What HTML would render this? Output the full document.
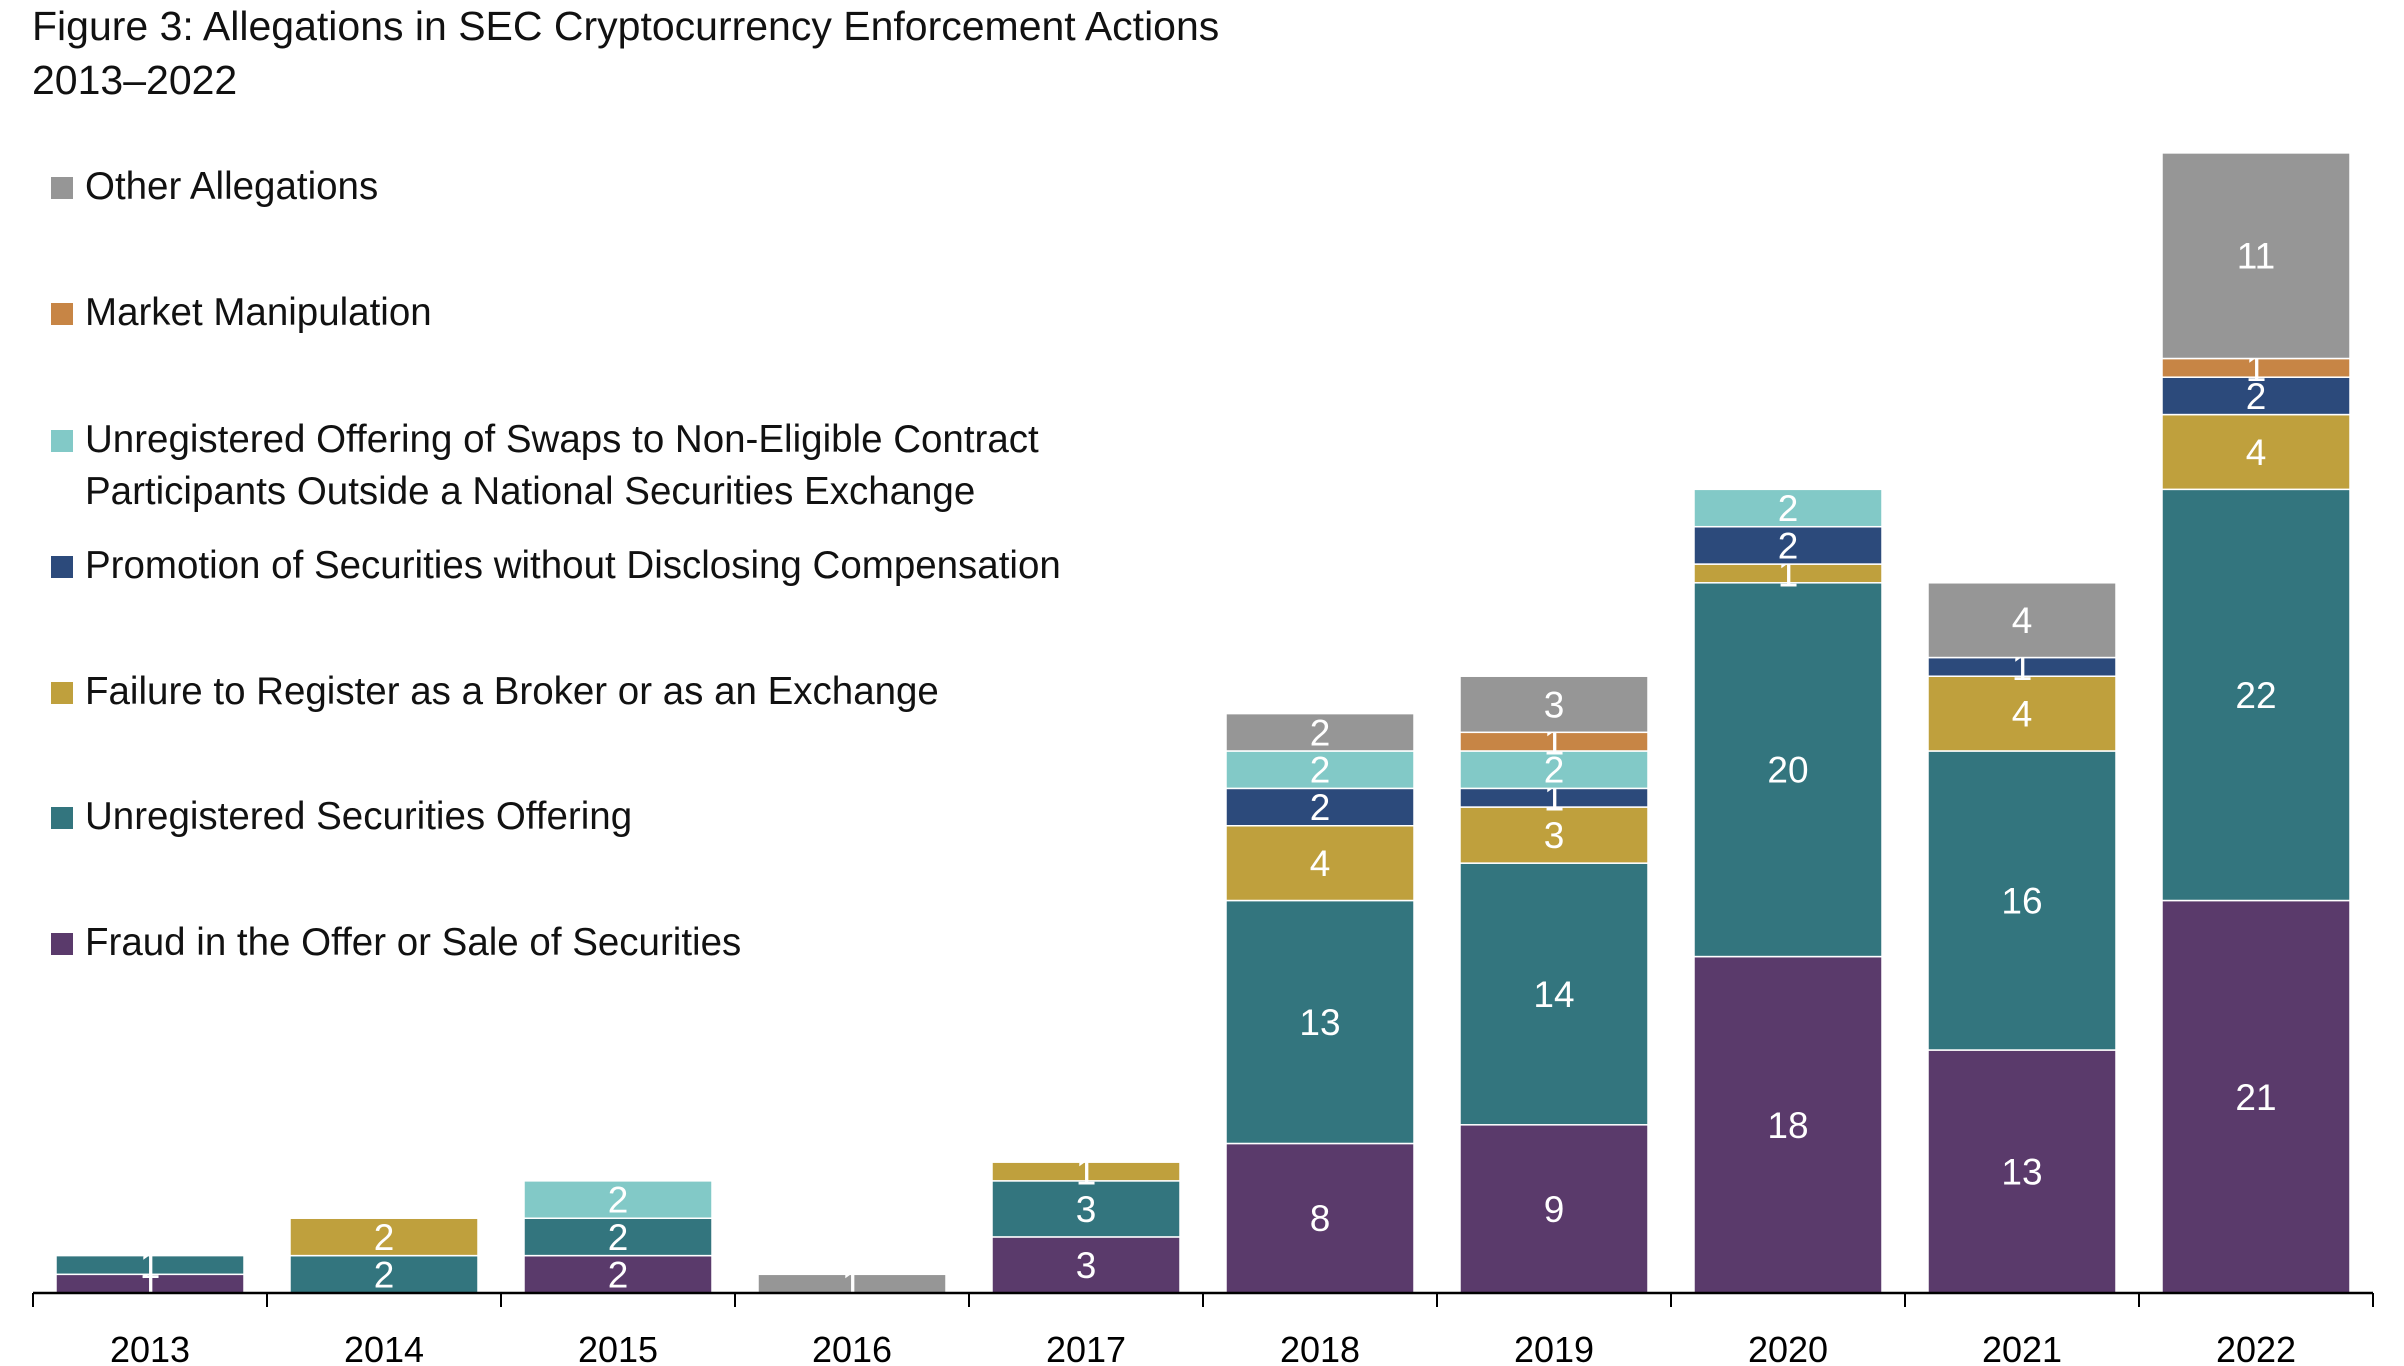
<!DOCTYPE html>
<html><head><meta charset="utf-8"><style>
html,body{margin:0;padding:0;background:#fff;}
svg{display:block;font-family:"Liberation Sans",sans-serif;}
</style></head><body>
<svg id="chart" width="2404" height="1366" viewBox="0 0 2404 1366" xmlns="http://www.w3.org/2000/svg">
<text x="32" y="40" font-size="41" fill="#111">Figure 3: Allegations in SEC Cryptocurrency Enforcement Actions</text>
<text x="32" y="94" font-size="41" fill="#111">2013–2022</text>
<g id="legend"></g>
<g id="bars"></g>
<g id="axis"></g>
</svg>
<script>
const years = ["2013","2014","2015","2016","2017","2018","2019","2020","2021","2022"];
const fraud = [1,0,2,0,3,8,9,18,13,21];
const unregistered = [1,2,2,0,3,13,14,20,16,22];
const failureRegister = [0,2,0,0,1,4,3,1,4,4];
const promotion = [0,0,0,0,0,2,1,2,1,2];
const swaps = [0,0,2,0,0,2,2,2,0,0];
const marketManip = [0,0,0,0,0,0,1,0,0,1];
const other = [0,0,0,1,0,2,3,0,4,11];
const seriesNames = ["Fraud in the Offer or Sale of Securities","Unregistered Securities Offering","Failure to Register as a Broker or as an Exchange","Promotion of Securities without Disclosing Compensation","Unregistered Offering of Swaps to Non-Eligible Contract|Participants Outside a National Securities Exchange","Market Manipulation","Other Allegations"];

const NS="http://www.w3.org/2000/svg";
const series=[fraud,unregistered,failureRegister,promotion,swaps,marketManip,other];
const colors=["#5a3a6b","#33757e","#bfa03d","#2c4a7b","#82c9c7","#c78545","#969696"];
const keys=["fraud","unregistered","failure-register","promotion","swaps","market-manipulation","other"];
const x0=33, catW=234, barW=188, baseY=1293, unit=18.69;
const xPos=i=>x0+catW*i+(catW-barW)/2;
const yPos=v=>baseY-v*unit;
function mk(t,a){const e=document.createElementNS(NS,t);for(const k in a)e.setAttribute(k,a[k]);return e;}
const bars=document.getElementById('bars');
years.forEach((y,i)=>{
  let cum=0;
  series.forEach((s,k)=>{
    const v=s[i]; if(!v) return;
    const yt=yPos(cum+v), yb=yPos(cum);
    const r=mk('rect',{x:xPos(i),y:yt,width:barW,height:yb-yt,fill:colors[k],stroke:'#fff','stroke-width':1.5});
    
    
    bars.appendChild(r);
    const t=mk('text',{x:xPos(i)+barW/2,y:(yt+yb)/2+13,'text-anchor':'middle','font-size':37,fill:'#fff'});
    t.textContent=v;
    
    
    bars.appendChild(t);
    cum+=v;
  });
});
const axis=document.getElementById('axis');
const line=mk('line',{x1:x0,x2:x0+catW*years.length,y1:baseY,y2:baseY,stroke:'#000','stroke-width':2.5});


axis.appendChild(line);
for(let i=0;i<=years.length;i++){
  const tk=mk('line',{x1:x0+catW*i,x2:x0+catW*i,y1:baseY,y2:baseY+14,stroke:'#000','stroke-width':2});
  
  
  axis.appendChild(tk);
}
years.forEach((y,i)=>{
  const t=mk('text',{x:x0+catW*(i+0.5),y:1362,'text-anchor':'middle','font-size':36,fill:'#000'});
  t.textContent=y;
  
  
  axis.appendChild(t);
});
const legend=document.getElementById('legend');
const legY=[955,829,704,578,452,325,199];
seriesNames.forEach((n,k)=>{
  const g=mk('g',{});
  
  
  const sq=mk('rect',{x:51,y:legY[k]-22,width:22,height:22,fill:colors[k]});
  
  
  g.appendChild(sq);
  n.split('|').forEach((ln,j)=>{
    const t=mk('text',{x:85,y:legY[k]+j*52,'font-size':38.5,fill:'#111'});
    t.textContent=ln;
    
    
    g.appendChild(t);
  });
  legend.appendChild(g);
});
</script>
</body></html>
